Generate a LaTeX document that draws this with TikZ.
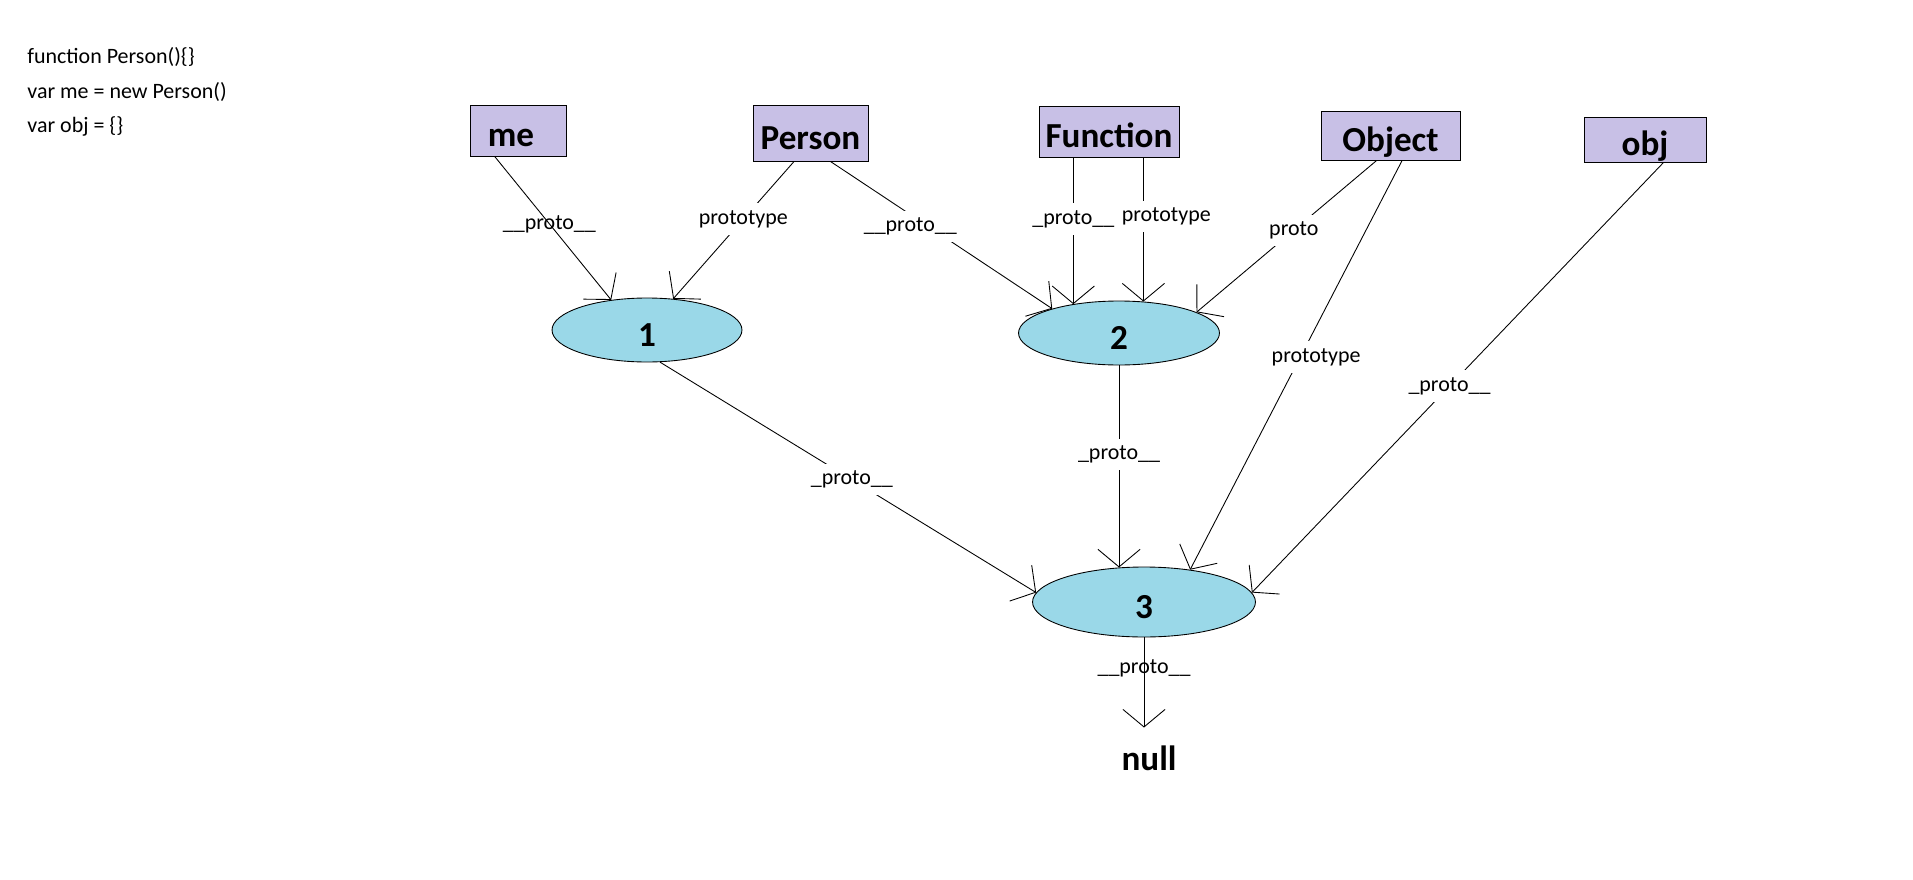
\documentclass[tikz,border=0pt]{standalone}
\usepackage{fontspec}
\setmainfont{Carlito}
\usetikzlibrary{positioning,arrows.meta,shapes.geometric}
\definecolor{boxfill}{RGB}{200,192,230}
\definecolor{blobfill}{RGB}{154,216,232}

\begin{document}
\begin{tikzpicture}[x=0.02cm, y=-0.02cm, line width=0.5pt,
    box/.style={draw, fill=boxfill, inner sep=0pt, text height=18.5pt, text depth=0pt, font=\fontsize{20}{22}\selectfont\bfseries},
    blob/.style={ellipse, draw, fill=blobfill, inner sep=0pt, text height=18.5pt, text depth=0pt, font=\fontsize{20}{22}\selectfont\bfseries},
    link/.style={-{Straight Barb[length=10pt,width=24pt]}},
    lbl/.style={fill=white, inner sep=4pt, font=\fontsize{12.5}{14}\selectfont}]

    \useasboundingbox (0,0) rectangle (1913,879);

    % Codice di partenza
    \node[anchor=west, align=left, inner sep=0pt, font=\fontsize{12.5}{19.8}\selectfont] (code) at (27,92)
        {function Person()\{\}\\ var me = new Person()\\ var obj = \{\}};

    % Oggetti in alto
    \node[box, minimum width=1.92cm, minimum height=1.02cm] (me) at (518,130.5) {me\kern8pt};
    \node[box, minimum width=2.30cm, minimum height=1.12cm] (Person) at (810.5,133) {Person};
    \node[box, minimum width=2.80cm, minimum height=1.02cm] (Function) at (1109,131.5) {Function};
    \node[box, minimum width=2.78cm, minimum height=0.98cm] (Object) at (1390.5,135.5) {Object};
    \node[box, minimum width=2.44cm, minimum height=0.90cm] (obj) at (1645,139.5) {obj};

    % Prototipi
    \node[blob, minimum width=3.80cm, minimum height=1.28cm] (e1) at (647,330) {1};
    \node[blob, minimum width=4.02cm, minimum height=1.28cm] (e2) at (1119,333) {2};
    \node[blob, minimum width=4.46cm, minimum height=1.40cm] (e3) at (1144,602) {3};
    \node[font=\fontsize{20}{22}\selectfont\bfseries, inner sep=10pt] (null) at (1149,758) {null};

    % Collegamenti verso 1
    \draw[link] (me.228) -- node[lbl, fill=none, pos=.47] {\_\_proto\_\_} (e1.140);
    \draw[link] (Person.240) -- node[lbl, pos=.42] {prototype} (e1.50);

    % Collegamenti verso 2
    \draw[link] (Person.-55) -- node[lbl, pos=.36, yshift=-7pt] {\_\_proto\_\_} (e2.160);
    \draw[link] (Function.216) -- node[lbl, pos=.42] {\_proto\_\_} (Function.216 |- e2.148);
    \draw[link] (Function.-37) -- node[lbl, pos=.41, xshift=13pt] {prototype} (Function.-37 |- e2.52);
    \draw[link] (Object.241) -- node[lbl, pos=.46] {proto} (e2.15);

    % Collegamenti verso 3 e null
    \draw[link] (Object.-65) -- node[lbl, pos=.48, xshift=9pt] {prototype} (e3.35);
    \draw[link] (obj.-51) -- node[lbl, pos=.52] {\_proto\_\_} (e3.5);
    \draw[link] (e1.-68) -- node[lbl, pos=.51] {\_proto\_\_} (e3.175);
    \draw[link] (e2.south) -- node[lbl, pos=.44] {\_proto\_\_} (e2.south |- e3.126);
    \draw[link] (e3.south) -- node[lbl, fill=none, pos=.34] {\_\_proto\_\_} (e3.south |- null.north);

\end{tikzpicture}
\end{document}
